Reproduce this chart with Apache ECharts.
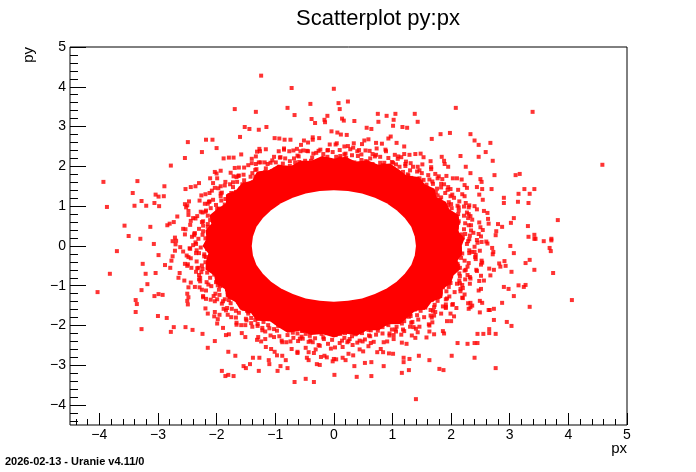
<!DOCTYPE html>
<html><head><meta charset="utf-8">
<script src="https://cdn.jsdelivr.net/npm/echarts@6/dist/echarts.min.js"></script>
<style>html,body{margin:0;padding:0;background:#fff}#c{width:696px;height:472px}</style>
</head><body><div id="c"></div>
<script>
const titleText = 'Scatterplot py:px';
const xName = 'px';
const yName = 'py';
const footerText = '2026-02-13 - Uranie v4.11/0';
const xMajorTicks = [-4, 5, 1];   // first, last, step
const yMajorTicks = [-4, 5, 1];

// empty centre of the distribution (edge of the white hole)
const holeEdge = [[1.40,0],[1.38,0.24],[1.32,0.48],[1.21,0.70],[1.07,0.90],[0.90,1.07],[0.70,1.21],[0.48,1.32],[0.24,1.38],[0,1.40],[-0.24,1.38],[-0.48,1.32],[-0.70,1.21],[-0.90,1.07],[-1.07,0.90],[-1.21,0.70],[-1.32,0.48],[-1.38,0.24],[-1.40,0],[-1.38,-0.24],[-1.32,-0.48],[-1.21,-0.70],[-1.07,-0.90],[-0.90,-1.07],[-0.70,-1.21],[-0.48,-1.32],[-0.24,-1.38],[0,-1.40],[0.24,-1.38],[0.48,-1.32],[0.70,-1.21],[0.90,-1.07],[1.07,-0.90],[1.21,-0.70],[1.32,-0.48],[1.38,-0.24]];

// ragged outer edge of the saturated (fully overlapping) band of points
const coreEdge = [[2.18,0],[2.23,0.19],[2.12,0.37],[2.14,0.57],[2.13,0.78],[1.97,0.92],[1.91,1.11],[1.75,1.23],[1.72,1.44],[1.55,1.55],[1.45,1.73],[1.24,1.77],[1.11,1.92],[0.96,2.07],[0.75,2.05],[0.58,2.15],[0.37,2.12],[0.20,2.24],
[0,2.20],[-0.20,2.26],[-0.38,2.14],[-0.57,2.14],[-0.73,2.01],[-0.95,2.04],[-1.10,1.91],[-1.31,1.87],[-1.39,1.65],[-1.57,1.57],[-1.67,1.40],[-1.84,1.29],[-1.84,1.07],[-1.99,0.93],[-2.12,0.77],[-2.09,0.56],[-2.19,0.39],[-2.17,0.19],
[-2.24,0],[-2.14,-0.19],[-2.18,-0.38],[-2.19,-0.59],[-2.04,-0.74],[-2.02,-0.94],[-1.86,-1.08],[-1.83,-1.29],[-1.68,-1.41],[-1.60,-1.60],[-1.41,-1.69],[-1.32,-1.88],[-1.09,-1.89],[-0.95,-2.04],[-0.79,-2.18],[-0.57,-2.13],[-0.39,-2.24],[-0.19,-2.21],
[0,-2.30],[0.19,-2.20],[0.40,-2.25],[0.57,-2.12],[0.77,-2.12],[0.92,-1.97],[1.13,-1.96],[1.26,-1.80],[1.38,-1.64],[1.58,-1.58],[1.67,-1.40],[1.85,-1.30],[1.86,-1.08],[2.00,-0.93],[2.04,-0.74],[2.16,-0.58],[2.11,-0.37],[2.19,-0.19]];

// points of the dense halo around the band
const haloA = [[2.03,0.03],[2.15,-0.04],[2.27,0.05],[2.40,-0.02],[2.62,0.06],
[2.07,0.16],[2.20,0.21],[2.31,0.17],[2.51,0.24],[2.76,0.27],
[1.99,0.38],[2.10,0.34],[2.22,0.42],[2.34,0.39],[2.50,0.47],[2.87,0.48],
[2.00,0.55],[2.12,0.58],[2.24,0.57],[2.36,0.66],[2.63,0.68],
[1.93,0.72],[2.04,0.71],[2.12,0.80],[2.27,0.84],[2.44,0.92],
[1.90,0.86],[2.01,0.95],[2.13,0.97],[2.25,1.08],[2.54,1.16],
[1.75,1.02],[1.82,1.08],[1.96,1.10],[2.05,1.21],[2.19,1.30],[2.53,1.43],
[1.70,1.16],[1.77,1.27],[1.90,1.33],[1.99,1.43],[2.23,1.53],
[1.58,1.29],[1.63,1.40],[1.76,1.44],[1.83,1.56],[2.03,1.70],
[1.45,1.49],[1.58,1.54],[1.63,1.67],[1.79,1.75],[1.95,1.99],
[1.31,1.55],[1.34,1.60],[1.46,1.70],[1.50,1.83],[1.66,1.93],[1.84,2.24],
[1.16,1.70],[1.27,1.77],[1.30,1.90],[1.43,1.99],[1.53,2.23],
[1.00,1.78],[1.10,1.84],[1.12,1.99],[1.22,2.06],[1.29,2.29],
[0.90,1.86],[0.91,2.01],[1.01,2.09],[1.04,2.29],[1.20,2.50],
[0.70,1.90],[0.71,1.97],[0.79,2.09],[0.79,2.24],[0.89,2.38],[0.97,2.75],
[0.55,2.00],[0.54,2.13],[0.62,2.20],[0.61,2.39],[0.72,2.59],
[0.37,2.02],[0.35,2.10],[0.41,2.26],[0.40,2.38],[0.48,2.56],
[0.16,2.09],[0.21,2.21],[0.18,2.30],[0.24,2.51],[0.22,2.79],
[0.02,2.02],[-0.03,2.12],[0.04,2.24],[-0.02,2.36],[0.03,2.55],[-0.04,2.88],
[-0.16,2.06],[-0.21,2.15],[-0.18,2.31],[-0.23,2.42],[-0.25,2.71],
[-0.33,2.02],[-0.39,2.14],[-0.37,2.22],[-0.44,2.38],[-0.44,2.60],
[-0.52,2.03],[-0.59,2.11],[-0.62,2.27],[-0.63,2.44],[-0.74,2.67],
[-0.66,1.90],[-0.75,2.01],[-0.75,2.13],[-0.83,2.20],[-0.85,2.42],[-1.01,2.71],
[-0.89,1.88],[-0.90,1.96],[-0.99,2.10],[-1.02,2.24],[-1.16,2.43],
[-1.04,1.78],[-1.06,1.88],[-1.16,1.95],[-1.18,2.10],[-1.33,2.25],
[-1.17,1.72],[-1.28,1.78],[-1.32,1.93],[-1.46,2.03],[-1.58,2.30],
[-1.27,1.55],[-1.38,1.60],[-1.42,1.74],[-1.54,1.79],[-1.62,1.97],[-1.88,2.20],
[-1.47,1.43],[-1.52,1.56],[-1.65,1.61],[-1.71,1.75],[-1.93,1.89],
[-1.54,1.33],[-1.67,1.36],[-1.72,1.48],[-1.86,1.52],[-1.99,1.70],
[-1.72,1.17],[-1.78,1.28],[-1.93,1.32],[-2.03,1.46],[-2.30,1.58],
[-1.71,1.02],[-1.86,1.04],[-1.92,1.14],[-2.06,1.16],[-2.19,1.30],[-2.53,1.43],
[-1.88,0.85],[-1.96,0.94],[-2.10,0.95],[-2.20,1.06],[-2.47,1.12],
[-1.93,0.67],[-2.00,0.76],[-2.15,0.76],[-2.24,0.84],[-2.48,0.88],
[-1.99,0.56],[-2.15,0.55],[-2.23,0.62],[-2.44,0.63],[-2.67,0.74],
[-1.99,0.33],[-2.07,0.39],[-2.23,0.37],[-2.30,0.43],[-2.53,0.42],[-2.84,0.52],
[-2.06,0.16],[-2.15,0.21],[-2.31,0.18],[-2.42,0.23],[-2.71,0.21],
[-2.03,-0.02],[-2.15,0.03],[-2.27,-0.04],[-2.40,0.02],[-2.62,-0.03],
[-2.05,-0.16],[-2.21,-0.21],[-2.30,-0.18],[-2.51,-0.24],[-2.75,-0.26],
[-1.95,-0.37],[-2.11,-0.35],[-2.19,-0.41],[-2.34,-0.39],[-2.49,-0.46],[-2.88,-0.48],
[-2.00,-0.51],[-2.09,-0.58],[-2.24,-0.58],[-2.35,-0.65],[-2.63,-0.68],
[-1.89,-0.71],[-2.04,-0.72],[-2.11,-0.80],[-2.28,-0.80],[-2.44,-0.92],
[-1.86,-0.90],[-2.01,-0.91],[-2.09,-1.01],[-2.29,-1.04],[-2.50,-1.20],
[-1.75,-0.98],[-1.82,-1.08],[-1.96,-1.10],[-2.02,-1.20],[-2.23,-1.26],[-2.49,-1.47],
[-1.66,-1.20],[-1.81,-1.23],[-1.86,-1.34],[-2.03,-1.39],[-2.19,-1.57],
[-1.58,-1.29],[-1.63,-1.40],[-1.76,-1.44],[-1.82,-1.56],[-2.03,-1.66],
[-1.49,-1.45],[-1.54,-1.58],[-1.67,-1.63],[-1.75,-1.79],[-1.99,-1.95],
[-1.31,-1.51],[-1.34,-1.64],[-1.46,-1.70],[-1.50,-1.83],[-1.66,-1.93],[-1.84,-2.24],
[-1.20,-1.66],[-1.23,-1.81],[-1.34,-1.86],[-1.39,-2.03],[-1.57,-2.19],
[-1.00,-1.78],[-1.10,-1.84],[-1.12,-1.99],[-1.22,-2.06],[-1.29,-2.29],
[-0.86,-1.90],[-0.95,-2.01],[-0.97,-2.13],[-1.08,-2.25],[-1.16,-2.54],
[-0.70,-1.86],[-0.71,-2.01],[-0.79,-2.09],[-0.79,-2.24],[-0.89,-2.38],[-0.97,-2.75],
[-0.55,-2.00],[-0.54,-2.13],[-0.62,-2.20],[-0.61,-2.39],[-0.72,-2.59],
[-0.37,-2.02],[-0.35,-2.10],[-0.41,-2.26],[-0.40,-2.38],[-0.48,-2.56],
[-0.16,-2.09],[-0.21,-2.21],[-0.18,-2.30],[-0.24,-2.51],[-0.22,-2.79],
[-0.02,-2.12],[0.03,-2.24],[-0.03,-2.36],[0.02,-2.55],[-0.02,-2.90],
[0.16,-2.06],[0.21,-2.15],[0.18,-2.31],[0.23,-2.42],[0.25,-2.71],
[0.33,-2.02],[0.39,-2.14],[0.37,-2.22],[0.44,-2.38],[0.44,-2.60],
[0.52,-2.03],[0.59,-2.11],[0.62,-2.27],[0.63,-2.44],[0.74,-2.67],
[0.66,-1.90],[0.75,-2.01],[0.75,-2.13],[0.83,-2.20],[0.85,-2.42],[1.01,-2.71],
[0.89,-1.88],[0.90,-1.96],[0.99,-2.10],[1.02,-2.24],[1.16,-2.43],
[1.04,-1.78],[1.06,-1.88],[1.16,-1.95],[1.18,-2.10],[1.33,-2.25],
[1.17,-1.72],[1.28,-1.78],[1.32,-1.93],[1.46,-2.03],[1.58,-2.30],
[1.27,-1.55],[1.38,-1.60],[1.42,-1.74],[1.54,-1.79],[1.62,-1.97],[1.88,-2.20],
[1.47,-1.43],[1.52,-1.56],[1.65,-1.61],[1.71,-1.75],[1.93,-1.89],
[1.54,-1.33],[1.67,-1.36],[1.72,-1.48],[1.86,-1.52],[1.99,-1.70],
[1.72,-1.17],[1.78,-1.28],[1.93,-1.32],[2.03,-1.46],[2.30,-1.58],
[1.71,-1.02],[1.86,-1.04],[1.92,-1.14],[2.06,-1.16],[2.19,-1.30],[2.53,-1.43],
[1.88,-0.85],[1.96,-0.94],[2.10,-0.95],[2.20,-1.06],[2.47,-1.12],
[1.93,-0.67],[2.00,-0.76],[2.15,-0.76],[2.24,-0.84],[2.48,-0.88],
[1.99,-0.56],[2.15,-0.55],[2.23,-0.62],[2.44,-0.63],[2.67,-0.74],
[1.99,-0.33],[2.07,-0.39],[2.23,-0.37],[2.30,-0.43],[2.53,-0.42],[2.84,-0.52],
[2.06,-0.16],[2.15,-0.21],[2.31,-0.18],[2.42,-0.23],[2.71,-0.21]];

const haloB = [[2.10,0.09],[2.29,0.12],[2.52,0.10],[2.03,0.27],[2.24,0.30],[2.38,0.33],[2.10,0.46],[2.30,0.52],[2.64,0.56],[1.92,0.61],[2.10,0.67],[2.33,0.75],[1.95,0.81],[2.13,0.89],[2.30,0.97],[1.83,0.94],[2.00,1.05],[2.14,1.12],[1.81,1.16],[1.99,1.25],[2.27,1.46],[1.60,1.23],[1.74,1.35],[1.95,1.48],[1.56,1.41],[1.69,1.56],[1.85,1.68],[1.40,1.50],[1.53,1.66],[1.61,1.78],[1.32,1.71],[1.42,1.87],[1.65,2.13],[1.08,1.70],[1.18,1.86],[1.31,2.08],[0.98,1.87],[1.06,2.05],[1.15,2.23],[0.80,1.90],[0.86,2.09],[0.93,2.21],[0.66,2.06],[0.70,2.25],[0.82,2.57],[0.44,1.96],[0.47,2.16],[0.54,2.40],[0.27,2.09],[0.31,2.28],[0.33,2.47],[0.09,2.04],[0.11,2.26],[0.10,2.41],
[-0.08,2.06],[-0.11,2.24],[-0.10,2.41],[-0.29,2.12],[-0.30,2.34],[-0.36,2.67],[-0.42,1.96],[-0.49,2.14],[-0.52,2.40],[-0.64,2.01],[-0.68,2.20],[-0.76,2.38],[-0.78,1.90],[-0.87,2.07],[-0.91,2.23],[-1.00,1.92],[-1.08,2.09],[-1.26,2.38],[-1.08,1.68],[-1.17,1.86],[-1.33,2.06],[-1.29,1.66],[-1.39,1.83],[-1.53,1.97],[-1.38,1.52],[-1.53,1.65],[-1.63,1.76],[-1.59,1.44],[-1.72,1.60],[-2.00,1.82],[-1.58,1.23],[-1.75,1.33],[-1.93,1.50],[-1.78,1.12],[-1.93,1.25],[-2.12,1.33],[-1.81,0.96],[-2.01,1.03],[-2.12,1.12],[-1.98,0.83],[-2.18,0.89],[-2.50,1.02],[-1.90,0.61],[-2.11,0.65],[-2.33,0.75],[-2.06,0.44],[-2.23,0.51],[-2.45,0.53],[-2.02,0.28],[-2.24,0.28],[-2.37,0.32],[-2.14,0.10],[-2.36,0.09],[-2.69,0.13],
[-2.16,-0.08],[-2.34,-0.11],[-2.71,-0.12],[-1.99,-0.27],[-2.18,-0.28],[-2.44,-0.31],[-2.04,-0.46],[-2.25,-0.49],[-2.43,-0.55],[-1.95,-0.63],[-2.16,-0.67],[-2.30,-0.73],[-1.98,-0.81],[-2.17,-0.91],[-2.48,-1.04],[-1.78,-0.93],[-1.94,-1.01],[-2.18,-1.12],[-1.76,-1.14],[-1.95,-1.23],[-2.10,-1.35],[-1.62,-1.26],[-1.79,-1.36],[-1.91,-1.45],[-1.57,-1.46],[-1.74,-1.58],[-1.98,-1.84],[-1.36,-1.48],[-1.48,-1.63],[-1.67,-1.80],[-1.27,-1.68],[-1.41,-1.81],[-1.51,-1.99],[-1.11,-1.72],[-1.20,-1.91],[-1.30,-2.01],[-0.98,-1.92],[-1.10,-2.07],[-1.24,-2.40],[-0.76,-1.86],[-0.85,-2.02],[-0.93,-2.27],[-0.62,-2.01],[-0.70,-2.18],[-0.74,-2.40],[-0.45,-1.99],[-0.48,-2.21],[-0.53,-2.33],[-0.27,-2.14],[-0.32,-2.32],[-0.34,-2.69],[-0.08,-2.01],[-0.11,-2.19],[-0.10,-2.46],
[0.08,-2.01],[0.11,-2.21],[0.10,-2.44],[0.27,-2.09],[0.31,-2.27],[0.32,-2.49],[0.45,-2.01],[0.48,-2.19],[0.53,-2.35],[0.64,-2.06],[0.72,-2.23],[0.80,-2.59],[0.78,-1.86],[0.83,-2.04],[0.95,-2.25],[0.96,-1.87],[1.07,-2.03],[1.15,-2.23],[1.11,-1.74],[1.20,-1.89],[1.30,-2.03],[1.30,-1.71],[1.44,-1.85],[1.63,-2.15],[1.36,-1.46],[1.48,-1.63],[1.67,-1.80],[1.54,-1.43],[1.71,-1.54],[1.83,-1.70],[1.64,-1.24],[1.77,-1.38],[1.91,-1.47],[1.82,-1.16],[1.97,-1.27],[2.29,-1.44],[1.78,-0.91],[1.96,-1.03],[2.16,-1.14],[1.93,-0.81],[2.14,-0.87],[2.32,-0.95],[1.97,-0.61],[2.14,-0.69],[2.28,-0.73],[2.11,-0.45],[2.28,-0.52],[2.65,-0.57],[1.99,-0.25],[2.17,-0.30],[2.42,-0.33],[2.09,-0.08],[2.31,-0.11],[2.49,-0.12]];

const haloC = [[2.45,0.08],[2.32,0.26],[2.54,0.40],[2.13,0.62],[2.30,0.80],[2.11,1.01],[2.23,1.25],[1.83,1.22],[1.88,1.55],[1.68,1.62],[1.66,1.98],[1.26,1.80],[1.23,2.12],[0.99,2.11],[0.88,2.42],[0.57,2.12],[0.43,2.41],[0.20,2.32],
[0.05,2.58],[-0.19,2.19],[-0.46,2.39],[-0.60,2.25],[-0.85,2.45],[-0.93,1.99],[-1.25,2.10],[-1.34,1.91],[-1.69,1.96],[-1.56,1.55],[-1.85,1.61],[-1.91,1.34],[-2.26,1.27],[-1.99,0.93],[-2.27,0.86],[-2.25,0.60],[-2.57,0.43],[-2.19,0.19],
[-2.45,-0.07],[-2.35,-0.18],[-2.54,-0.45],[-2.10,-0.59],[-2.30,-0.84],[-2.14,-0.97],[-2.23,-1.29],[-1.77,-1.28],[-1.88,-1.58],[-1.62,-1.68],[-1.66,-1.98],[-1.29,-1.78],[-1.22,-2.12],[-1.02,-2.09],[-0.88,-2.42],[-0.54,-2.14],[-0.43,-2.41],[-0.17,-2.34],
[-0.05,-2.58],[0.19,-2.19],[0.40,-2.43],[0.60,-2.25],[0.91,-2.40],[0.93,-1.99],[1.20,-2.14],[1.34,-1.91],[1.63,-2.00],[1.56,-1.55],[1.91,-1.56],[1.91,-1.34],[2.20,-1.31],[1.99,-0.93],[2.33,-0.82],[2.25,-0.60],[2.51,-0.47],[2.19,-0.19],
[2.60,0.11],[2.18,0.29],[2.34,0.52],[2.62,0.83],[2.40,1.00],[1.95,1.02],[2.02,1.29],[2.18,1.67],[1.92,1.76],[1.49,1.62],[1.46,1.90],[1.48,2.32],[1.20,2.31],[0.84,2.03],[0.72,2.29],[0.59,2.68],[0.34,2.58],[0.10,2.20],
[-0.11,2.40],[-0.36,2.73],[-0.56,2.54],[-0.66,2.10],[-0.92,2.22],[-1.27,2.44],[-1.40,2.19],[-1.34,1.74],[-1.62,1.77],[-2.03,1.86],[-2.06,1.58],[-1.85,1.18],[-2.13,1.11],[-2.54,1.05],[-2.48,0.78],[-2.15,0.48],[-2.38,0.31],[-2.75,0.12],
[-2.57,-0.14],[-2.21,-0.26],[-2.31,-0.55],[-2.65,-0.80],[-2.37,-1.03],[-1.98,-0.99],[-2.05,-1.26],[-2.15,-1.70],[-1.95,-1.73],[-1.46,-1.65],[-1.49,-1.87],[-1.51,-2.29],[-1.17,-2.34],[-0.87,-2.01],[-0.69,-2.31],[-0.62,-2.66],[-0.31,-2.60],[-0.13,-2.18],
[0.14,-2.38],[0.33,-2.75],[0.59,-2.52],[0.63,-2.12],[0.95,-2.20],[1.24,-2.46],[1.43,-2.17],[1.31,-1.76],[1.65,-1.75],[2.00,-1.89],[2.09,-1.56],[1.82,-1.20],[2.16,-1.08],[2.51,-1.08],[2.51,-0.75],[2.12,-0.50],[2.41,-0.28],[2.72,-0.15]];

const haloD = [[2.70,-0.05],[2.47,0.30],[2.80,0.55],[2.29,0.70],[2.56,0.88],[2.31,1.02],[2.44,1.48],[1.94,1.41],[2.10,1.70],[1.73,1.81],[1.88,2.14],[1.35,1.99],[1.39,2.31],[1.10,2.25],[0.93,2.70],[0.66,2.31],[0.52,2.65],[0.18,2.50],
[0.06,2.85],[-0.26,2.39],[-0.51,2.65],[-0.69,2.40],[-0.93,2.70],[-1.05,2.15],[-1.31,2.37],[-1.40,2.08],[-1.79,2.22],[-1.66,1.73],[-2.11,1.70],[-2.08,1.39],[-2.44,1.48],[-2.15,1.06],[-2.52,0.97],[-2.40,0.70],[-2.80,0.56],[-2.38,0.27],
[-2.70,0.04],[-2.48,-0.28],[-2.79,-0.55],[-2.33,-0.56],[-2.55,-0.87],[-2.25,-1.10],[-2.50,-1.38],[-1.99,-1.34],[-2.04,-1.77],[-1.81,-1.73],[-1.79,-2.22],[-1.41,-1.94],[-1.31,-2.36],[-1.02,-2.29],[-1.01,-2.66],[-0.58,-2.33],[-0.43,-2.67],[-0.26,-2.49],
[0.04,-2.85],[0.25,-2.39],[0.50,-2.65],[0.68,-2.41],[0.94,-2.70],[1.06,-2.15],[1.39,-2.31],[1.40,-2.08],[1.86,-2.14],[1.73,-1.66],[2.05,-1.77],[2.02,-1.48],[2.49,-1.38],[2.19,-0.98],[2.56,-0.87],[2.43,-0.60],[2.82,-0.44],[2.40,-0.15],
[2.44,0.15],[2.77,0.37],[2.48,0.59],[2.22,0.76],[2.22,0.99],[2.48,1.29],[2.12,1.41],[1.83,1.47],[1.77,1.70],[1.89,2.06],[1.51,2.05],[1.22,2.01],[1.09,2.19],[1.07,2.59],[0.73,2.45],[0.47,2.30],[0.28,2.43],[0.12,2.80],
[-0.07,2.55],[-0.35,2.32],[-0.57,2.38],[-0.84,2.67],[-0.94,2.38],[-1.13,2.06],[-1.28,2.10],[-1.71,2.22],[-1.76,1.84],[-1.77,1.55],[-1.97,1.45],[-2.36,1.50],[-2.29,1.14],[-2.19,0.86],[-2.36,0.69],[-2.73,0.60],[-2.54,0.29],[-2.35,0.05],
[-2.46,-0.06],[-2.77,-0.37],[-2.50,-0.50],[-2.26,-0.66],[-2.28,-0.89],[-2.48,-1.29],[-2.18,-1.33],[-1.89,-1.39],[-1.84,-1.62],[-1.89,-2.06],[-1.58,-1.99],[-1.30,-1.96],[-1.17,-2.15],[-1.07,-2.59],[-0.81,-2.42],[-0.55,-2.28],[-0.36,-2.42],[-0.12,-2.80],
[0.15,-2.54],[0.27,-2.34],[0.49,-2.40],[0.84,-2.67],[1.02,-2.34],[1.05,-2.10],[1.36,-2.04],[1.71,-2.22],[1.68,-1.92],[1.69,-1.63],[1.91,-1.53],[2.36,-1.50],[2.23,-1.22],[2.15,-0.94],[2.32,-0.78],[2.73,-0.60],[2.52,-0.37],[2.35,-0.15]];

// sparse outer points
const tail = [[-1.24,4.28],[-0.72,3.97],[0.00,3.95],[-0.40,3.57],[0.08,3.59],[0.24,3.63],[-1.69,3.44],[-1.33,3.37],[-0.79,3.47],[-0.67,3.29],[0.10,3.44],[-0.38,3.19],[-0.32,3.09],[-0.16,3.17],[-0.15,3.11],[-0.11,3.27],[0.14,3.20],[0.17,3.15],[-1.52,2.99],[-1.44,2.94],[-1.15,2.99],[-1.28,2.92],[-1.60,2.74],[-2.49,2.61],[-2.18,2.67],[-2.07,2.67],[-2.00,2.46],[-2.25,2.36],[-2.54,2.21],[-2.78,2.02],[-3.93,1.61],[-3.35,1.63],[-3.43,1.33],[-3.28,1.13],[-3.87,0.98],[-3.40,1.01],[-3.20,1.01],[-3.57,0.51],[-3.50,0.25],[-3.30,0.18],[-3.13,0.48],[-3.06,1.08],[-2.98,1.00],[-2.89,1.50],[-3.04,1.29],[-2.99,1.24],[-2.90,1.25],
[2.08,3.47],[3.39,3.37],[0.75,3.32],[0.90,3.27],[1.05,3.32],[1.38,3.32],[0.35,3.14],[0.76,3.12],[1.02,3.17],[1.43,3.12],[0.56,2.97],[0.64,2.94],[1.01,3.02],[1.17,2.99],[1.25,2.97],[1.67,2.69],[1.82,2.81],[1.98,2.84],[2.33,2.81],[2.40,2.65],[2.47,2.54],[2.67,2.59],[2.59,2.36],[2.47,2.24],[2.16,2.26],[2.71,2.14],[2.25,1.99],[2.33,1.83],[2.74,1.78],[3.10,1.78],[3.17,1.81],[4.58,2.04],[3.25,1.43],[3.42,1.43],[3.34,1.31],[3.15,1.31],[3.14,1.11],[3.32,1.08],[2.90,1.21],[2.90,1.08],[2.69,1.43],[2.50,1.68],[2.52,1.61],[3.82,0.65],[3.31,0.50],[3.42,0.28],[3.42,0.18],[3.71,0.18],[3.07,0.70],[3.02,0.58],
[-4.03,-1.16],[-3.82,-0.70],[-3.70,-0.13],[-3.38,-1.36],[-3.36,-1.46],[-3.38,-1.66],[-3.28,-2.09],[-3.28,-1.11],[-3.26,-0.45],[-3.21,-0.70],[-3.18,-0.96],[-3.06,-1.26],[-2.99,-1.21],[-2.92,-1.23],[-3.04,-0.68],[-3.07,0.05],[-2.99,-0.23],[-3.00,-1.76],[-2.85,-1.81],[-2.78,-2.16],[-2.73,-2.04],[-2.53,-2.04],[-2.41,-2.11],[-2.24,-2.21],[-2.15,-2.56],[-2.03,-2.39],[-1.91,-3.14],[-1.85,-3.27],[-1.80,-3.24],[-1.71,-3.27],[-1.80,-2.66],[-1.68,-2.76],[-1.54,-3.02],[-1.50,-3.07],[-1.43,-2.97],[-1.38,-2.81],[-1.28,-3.14],[-1.27,-2.81],[-1.11,-2.87],[-1.10,-2.97],[-0.96,-3.14],[-0.91,-3.02],[-0.88,-2.76],[-0.82,-2.87],[-0.79,-3.07],[-0.67,-3.42],[-0.62,-2.69],[-0.48,-3.34],[-0.46,-2.81],[-0.43,-2.87],[-0.34,-3.42],[-0.29,-2.97],[-0.24,-2.99],[-0.16,-2.76],[0.01,-3.24],[0.00,-2.84],[0.15,-2.81],[0.20,-2.87],
[1.40,-3.85],[2.76,-3.07],[1.80,-3.09],[1.87,-3.12],[1.16,-3.19],[1.28,-3.12],[0.64,-3.27],[0.39,-3.29],[0.85,-3.02],[0.53,-2.94],[0.64,-2.92],[0.35,-3.02],[1.19,-2.92],[1.19,-2.81],[1.29,-2.84],[1.63,-2.87],[1.45,-2.76],[2.01,-2.76],[2.40,-2.81],[2.45,-2.21],[2.65,-2.09],[2.65,-2.19],[2.11,-2.44],[2.28,-2.46],[2.40,-2.44],[2.73,-1.86],[2.95,-1.91],[3.03,-2.01],[3.34,-1.53],[2.87,-1.43],[2.73,-1.58],[2.66,-1.61],[4.06,-1.36],[3.74,-0.68],[3.42,-0.60],[3.34,-0.35],[3.27,-0.43],[3.15,-0.99],[3.24,-1.03],[3.27,-0.98],[3.07,-1.26],[3.03,-0.65],[3.07,-0.18],[2.90,-1.03],[2.98,-1.08],[2.93,-0.50],[2.91,-0.38],[3.68,-0.05],[3.70,-0.13],[3.58,0.12],[3.71,0.14],[3.44,0.18],[3.32,0.23],[3.01,0.00],[2.76,-2.21],[2.55,-2.21],[2.45,-2.44],[2.64,-1.61],[2.49,-1.67],[2.33,-1.54],[2.33,-1.43]];

const points = haloA.concat(haloB, haloC, haloD, tail);

// ---- layout ----
const L = 70, T = 47, R = 69, B = 47;
const W = 696 - L - R, H = 472 - T - B;
const XMIN = -4.5, XMAX = 5, YMIN = -4.5, YMAX = 5;
const ppx = W / (XMAX - XMIN), ppy = H / (YMAX - YMIN);
const FONT = '"Liberation Sans", Arial, Helvetica, sans-serif';
const fmt = v => (v < 0 ? '\u2212' + Math.abs(v) : String(v));
const tickStyle = {color: '#000', width: 1};
const noLine = {show: false, onZero: false};

const chart = echarts.init(document.getElementById('c'), null, {renderer: 'canvas'});
const minorStart = -4.4;
chart.setOption({
  animation: false,
  backgroundColor: '#fff',
  grid: [
    {left: L, top: T, right: R, bottom: B, show: true, borderColor: '#000', borderWidth: 1, backgroundColor: '#fff'},
    {left: L + (minorStart - XMIN) * ppx, top: T, right: R, bottom: B + (minorStart - YMIN) * ppy, show: false},
    {left: L + (xMajorTicks[0] - XMIN) * ppx, top: T, right: R, bottom: B + (yMajorTicks[0] - YMIN) * ppy, show: false}
  ],
  xAxis: [
    {gridIndex: 0, type: 'value', min: XMIN, max: XMAX, show: false, axisLine: noLine},
    {gridIndex: 1, type: 'value', position: 'bottom', min: minorStart, max: XMAX, interval: 0.2, offset: (minorStart - YMIN) * ppy,
     axisLine: noLine, axisTick: {show: true, inside: true, length: 6, lineStyle: tickStyle},
     axisLabel: {show: false}, splitLine: {show: false}},
    {gridIndex: 2, type: 'value', position: 'bottom', min: xMajorTicks[0], max: xMajorTicks[1], interval: xMajorTicks[2], offset: (yMajorTicks[0] - YMIN) * ppy,
     axisLine: noLine, axisTick: {show: true, inside: true, length: 12, lineStyle: tickStyle},
     axisLabel: {show: true, color: '#000', fontSize: 14, fontFamily: FONT, margin: 3, formatter: fmt},
     splitLine: {show: false}}
  ],
  yAxis: [
    {gridIndex: 0, type: 'value', min: YMIN, max: YMAX, show: false, axisLine: noLine},
    {gridIndex: 1, type: 'value', position: 'left', min: minorStart, max: YMAX, interval: 0.2, offset: (minorStart - XMIN) * ppx,
     axisLine: noLine, axisTick: {show: true, inside: true, length: 8, lineStyle: tickStyle},
     axisLabel: {show: false}, splitLine: {show: false}},
    {gridIndex: 2, type: 'value', position: 'left', min: yMajorTicks[0], max: yMajorTicks[1], interval: yMajorTicks[2], offset: (xMajorTicks[0] - XMIN) * ppx,
     axisLine: noLine, axisTick: {show: true, inside: true, length: 16, lineStyle: tickStyle},
     axisLabel: {show: true, color: '#000', fontSize: 14, fontFamily: FONT, margin: 4, formatter: fmt},
     splitLine: {show: false}}
  ],
  graphic: [
    {type: 'text', x: 378, y: 18.5, style: {text: titleText, font: '22px ' + FONT, fill: '#000', align: 'center', verticalAlign: 'middle'}},
    {type: 'text', x: 29, y: 47, rotation: Math.PI / 2, style: {text: yName, font: '15px ' + FONT, fill: '#000', align: 'right', verticalAlign: 'middle'}},
    {type: 'text', x: 627, y: 449, style: {text: xName, font: '15px ' + FONT, fill: '#000', align: 'right', verticalAlign: 'middle'}},
    {type: 'text', x: 5, y: 462, style: {text: footerText, font: 'bold 11px ' + FONT, fill: '#000', align: 'left', verticalAlign: 'middle'}}
  ],
  series: [
    {type: 'custom', coordinateSystem: 'cartesian2d', xAxisIndex: 0, yAxisIndex: 0, data: [[0, 0]], silent: true, z: 1, clip: true,
     renderItem: function (params, api) {
       return {type: 'group', children: [
         {type: 'polygon', shape: {points: coreEdge.map(p => api.coord(p))}, style: {fill: '#ff0000'}},
         {type: 'polygon', shape: {points: holeEdge.map(p => api.coord(p))}, style: {fill: '#ffffff'}}
       ]};
     }},
    {type: 'scatter', xAxisIndex: 0, yAxisIndex: 0, data: points, symbol: 'rect', symbolSize: 4,
     itemStyle: {color: '#ff0000'}, silent: true, z: 2}
  ]
});
</script>
</body></html>
